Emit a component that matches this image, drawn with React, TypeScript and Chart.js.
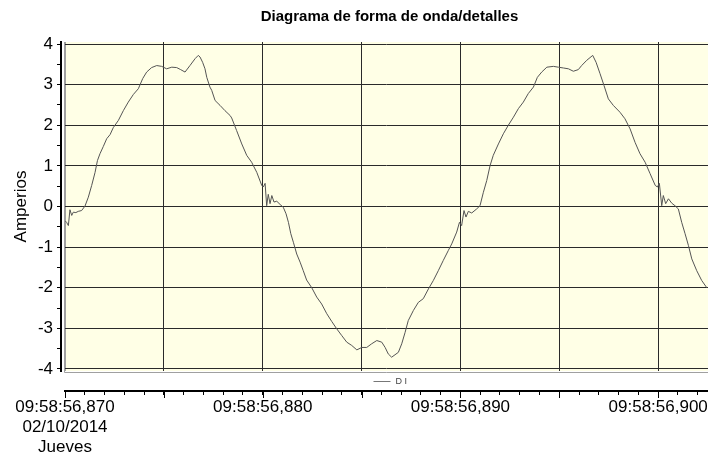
import React, { useEffect, useRef } from 'react';
import { Chart, registerables } from 'chart.js';

Chart.register(...registerables);

const TITLE = 'Diagrama de forma de onda/detalles';
const Y_TITLE = 'Amperios';
const SERIES_NAME = 'D I';

const X_MIN = 0;
const X_MAX = 32.52;
const Y_MIN = -4.05;
const Y_MAX = 4.05;

// time offset in ms from 09:58:56,870
const timeMs = [
  0.0, 0.08, 0.17, 0.25, 0.34, 0.42, 0.55, 0.67, 0.84, 1.01, 1.18, 1.35, 1.52, 1.64, 1.77, 1.94,
  2.11, 2.28, 2.44, 2.7, 2.95, 3.2, 3.46, 3.71, 3.93, 4.13, 4.38, 4.64, 4.89, 5.14, 5.4, 5.65,
  5.85, 6.07, 6.32, 6.58, 6.74, 6.83, 6.96, 7.08, 7.17, 7.33, 7.42, 7.59, 7.84, 8.09, 8.35, 8.43,
  8.68, 8.94, 9.19, 9.44, 9.7, 9.95, 10.03, 10.12, 10.2, 10.28, 10.37, 10.46, 10.57, 10.71, 10.88,
  11.04, 11.18, 11.3, 11.42, 11.55, 11.72, 11.89, 12.05, 12.22, 12.48, 12.73, 12.98, 13.24, 13.49,
  13.74, 14.0, 14.25, 14.5, 14.76, 15.01, 15.26, 15.51, 15.77, 16.02, 16.19, 16.35, 16.52, 16.69,
  16.86, 17.03, 17.2, 17.36, 17.62, 17.87, 18.12, 18.38, 18.63, 18.88, 19.13, 19.39, 19.56, 19.81,
  19.95, 20.06, 20.18, 20.28, 20.4, 20.57, 20.82, 20.99, 21.16, 21.33, 21.5, 21.66, 21.92, 22.17,
  22.42, 22.68, 22.93, 23.18, 23.43, 23.69, 23.89, 24.11, 24.37, 24.7, 24.95, 25.21, 25.46, 25.71,
  25.96, 26.13, 26.39, 26.69, 26.86, 27.06, 27.26, 27.48, 27.73, 28.07, 28.32, 28.58, 28.83, 29.08,
  29.34, 29.59, 29.85, 29.96, 30.06, 30.18, 30.26, 30.38, 30.52, 30.69, 30.85, 31.02, 31.19, 31.36,
  31.53, 31.7, 31.95, 32.2, 32.46,
];

const amps = [
  -0.35, -0.39, -0.47, -0.08, -0.22, -0.14, -0.15, -0.12, -0.1, 0.01, 0.23, 0.52, 0.84, 1.13, 1.3, 1.48,
  1.67, 1.77, 1.94, 2.12, 2.36, 2.57, 2.76, 2.9, 3.15, 3.31, 3.42, 3.47, 3.45, 3.39, 3.43, 3.42,
  3.37, 3.31, 3.47, 3.64, 3.72, 3.68, 3.55, 3.39, 3.18, 2.94, 2.86, 2.61, 2.49, 2.36, 2.24, 2.18,
  1.87, 1.54, 1.26, 1.09, 0.84, 0.52, 0.48, 0.57, 0.02, 0.3, 0.07, 0.27, 0.11, 0.13, 0.05,
  -0.02, -0.18, -0.39, -0.67, -0.88, -1.17, -1.37, -1.58, -1.81, -2.0, -2.23, -2.4, -2.64, -2.83,
  -3.01, -3.18, -3.34, -3.42, -3.53, -3.47, -3.47, -3.38, -3.3, -3.34, -3.47, -3.63, -3.71, -3.65,
  -3.59, -3.38, -3.1, -2.81, -2.56, -2.36, -2.27, -2.03, -1.82, -1.58, -1.33, -1.08, -0.92, -0.63,
  -0.39, -0.47, -0.1, -0.26, -0.12, -0.16, -0.06, 0.02, 0.35, 0.64, 1.01, 1.26, 1.54, 1.79,
  2.0, 2.2, 2.41, 2.57, 2.78, 2.94, 3.18, 3.31, 3.43, 3.45, 3.43, 3.41, 3.39, 3.33,
  3.37, 3.47, 3.6, 3.72, 3.55, 3.27, 2.98, 2.65, 2.49, 2.32, 2.16, 1.91, 1.58, 1.3,
  1.09, 0.81, 0.52, 0.48, 0.57, 0.02, 0.27, 0.07, 0.19, 0.08, 0.02, -0.06, -0.39, -0.67,
  -0.96, -1.29, -1.58, -1.82, -2.0,
];

const xLabelValues = [0, 10, 20, 30];
const xLabels = ['09:58:56,870', '09:58:56,880', '09:58:56,890', '09:58:56,900'];
const xFirstLabelExtra = ['02/10/2014', 'Jueves'];
const xGridValues = [0, 5, 10, 15, 20, 25, 30];
const xMinorTickValues = [
  0, 1, 2, 3, 4, 5, 6, 7, 8, 9, 10, 11, 12, 13, 14, 15, 16, 17, 18, 19, 20, 21, 22, 23, 24, 25, 26,
  27, 28, 29, 30, 31, 32,
];
const yLabelValues = [-4, -3, -2, -1, 0, 1, 2, 3, 4];
const yMinorTickValues = [
  -4, -3.5, -3, -2.5, -2, -1.5, -1, -0.5, 0, 0.5, 1, 1.5, 2, 2.5, 3, 3.5, 4,
];

const FONT = "'Liberation Sans', Arial, sans-serif";

const decorPlugin = {
  id: 'decor',
  beforeDraw(chart: any) {
    const { ctx, chartArea: a, width, height } = chart;
    ctx.save();
    ctx.fillStyle = '#ffffff';
    ctx.fillRect(0, 0, width, height);
    ctx.fillStyle = '#ffffe6';
    ctx.fillRect(a.left, a.top, a.right - a.left, a.bottom - a.top);
    ctx.restore();
  },
  afterDraw(chart: any) {
    const { ctx, chartArea: a } = chart;
    ctx.save();
    // plot frame (left & bottom)
    ctx.strokeStyle = '#a0a0a0';
    ctx.lineWidth = 1;
    ctx.beginPath();
    ctx.moveTo(a.left - 0.5, a.top);
    ctx.lineTo(a.left - 0.5, a.bottom + 1.5);
    ctx.moveTo(a.left - 0.5, a.bottom + 1.5);
    ctx.lineTo(a.right, a.bottom + 1.5);
    ctx.stroke();

    // title
    const cx = (a.left + a.right) / 2;
    ctx.fillStyle = '#000';
    ctx.font = `bold 15px ${FONT}`;
    ctx.textAlign = 'center';
    ctx.textBaseline = 'middle';
    ctx.fillText(TITLE, cx + 3, 17);

    // legend strip
    const x2 = chart.scales.x2;
    const ly = (a.bottom + x2.top) / 2 + 0.5;
    ctx.strokeStyle = '#777';
    ctx.beginPath();
    ctx.moveTo(cx - 13, ly);
    ctx.lineTo(cx + 4, ly);
    ctx.stroke();
    ctx.fillStyle = '#444';
    ctx.font = `9px ${FONT}`;
    ctx.textAlign = 'left';
    ctx.fillText(SERIES_NAME, cx + 9, ly);

    // longer major ticks every 5 ms
    ctx.strokeStyle = '#000';
    ctx.lineWidth = 1;
    ctx.beginPath();
    xGridValues.forEach((v) => {
      const px = Math.round(x2.getPixelForValue(v)) + 0.5;
      ctx.moveTo(px, x2.top);
      ctx.lineTo(px, x2.top + 7);
    });
    ctx.stroke();
    ctx.restore();
  },
};

export default function App() {
  const ref = useRef<HTMLCanvasElement | null>(null);

  useEffect(() => {
    document.body.style.margin = '0';
    const canvas = ref.current;
    if (!canvas) return;
    const data = timeMs.map((t, i) => ({ x: t, y: amps[i] }));
    const chart = new Chart(canvas, {
      type: 'line',
      data: {
        datasets: [
          {
            label: SERIES_NAME,
            data,
            borderColor: '#555555',
            borderWidth: 1,
            pointRadius: 0,
            tension: 0,
            fill: false,
            xAxisID: 'x',
            yAxisID: 'y',
          },
        ],
      },
      options: {
        animation: false,
        responsive: false,
        devicePixelRatio: 1,
        parsing: false as any,
        normalized: true,
        layout: { padding: { top: 42, left: 0, right: 0, bottom: 0 } },
        plugins: {
          legend: { display: false },
          title: { display: false },
          tooltip: { enabled: false },
        },
        scales: {
          x: {
            type: 'linear',
            position: 'bottom',
            weight: 0,
            min: X_MIN,
            max: X_MAX,
            afterBuildTicks: (s: any) => {
              s.ticks = xGridValues.map((v) => ({ value: v }));
            },
            afterFit: (s: any) => {
              s.height = 20;
            },
            ticks: { display: false },
            border: { display: false },
            grid: {
              drawOnChartArea: true,
              drawTicks: false,
              color: (c: any) => (c.tick && c.tick.value === 0 ? '#a0a0a0' : '#2a2a2a'),
              lineWidth: 1,
            },
          },
          x2: {
            type: 'linear',
            position: 'bottom',
            weight: 1,
            min: X_MIN,
            max: X_MAX,
            afterBuildTicks: (s: any) => {
              s.ticks = xMinorTickValues.map((v) => ({ value: v }));
            },
            afterFit: (s: any) => {
              s.height = 67;
            },
            border: { display: true, color: '#000', width: 2 },
            grid: {
              drawOnChartArea: false,
              drawTicks: true,
              tickLength: 4,
              tickColor: '#000',
            },
            ticks: {
              autoSkip: false,
              maxRotation: 0,
              minRotation: 0,
              padding: 2,
              color: '#000',
              font: { family: FONT, size: 17, lineHeight: 1.18 },
              callback: (v: any) => {
                const idx = xLabelValues.indexOf(Number(v));
                if (idx < 0) return '';
                if (idx === 0) return [xLabels[0], ...xFirstLabelExtra];
                return xLabels[idx];
              },
            },
          },
          y: {
            type: 'linear',
            position: 'left',
            weight: 0,
            min: Y_MIN,
            max: Y_MAX,
            afterBuildTicks: (s: any) => {
              s.ticks = yLabelValues.map((v) => ({ value: v }));
            },
            afterFit: (s: any) => {
              s.width = 4;
            },
            ticks: { display: false },
            border: { display: false },
            grid: {
              drawOnChartArea: true,
              drawTicks: false,
              color: '#2a2a2a',
              lineWidth: 1,
            },
          },
          y2: {
            type: 'linear',
            position: 'left',
            weight: 1,
            min: Y_MIN,
            max: Y_MAX,
            afterBuildTicks: (s: any) => {
              s.ticks = yMinorTickValues.map((v) => ({ value: v }));
            },
            afterFit: (s: any) => {
              s.width = 61;
            },
            border: { display: true, color: '#000', width: 2 },
            grid: {
              drawOnChartArea: false,
              drawTicks: true,
              tickLength: 4,
              tickColor: '#000',
            },
            title: {
              display: true,
              text: Y_TITLE,
              color: '#000',
              font: { family: FONT, size: 17 },
              padding: { top: 11, bottom: 0 },
            },
            ticks: {
              autoSkip: false,
              padding: 4,
              color: '#000',
              font: { family: FONT, size: 17 },
              callback: (v: any) => (yLabelValues.indexOf(Number(v)) >= 0 ? String(v) : ''),
            },
          },
        },
      } as any,
      plugins: [decorPlugin],
    });
    return () => chart.destroy();
  }, []);

  return (
    <div style={{ position: 'fixed', left: 0, top: 0, width: 708, height: 458 }}>
      <canvas ref={ref} width={708} height={458} style={{ display: 'block' }} />
    </div>
  );
}
